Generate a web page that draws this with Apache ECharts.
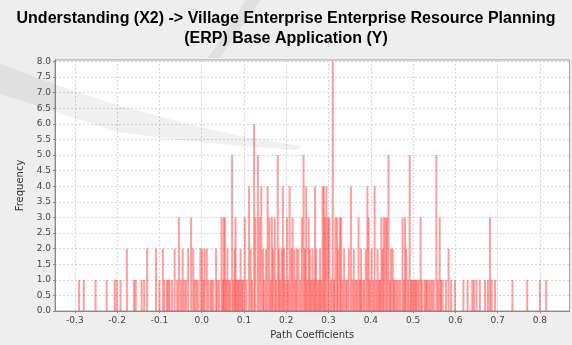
<!DOCTYPE html>
<html>
<head>
<meta charset="utf-8">
<script src="https://cdn.jsdelivr.net/npm/echarts@6/dist/echarts.min.js"></script>
<style>
  html, body { margin: 0; padding: 0; background: #eeeeee; }
  #chart { width: 572px; height: 345px; }
</style>
</head>
<body>
<div id="chart"></div>
<script>
// Bootstrap histogram of the path coefficient Understanding (X2) -> ERP Base Application (Y)
const chartTitle = 'Understanding (X2) -> Village Enterprise Enterprise Resource Planning\n(ERP) Base Application (Y)';
const xAxisName = 'Path Coefficients';
const yAxisName = 'Frequency';

// bin position (path coefficient) and count of bootstrap samples in that bin
const coefficients = [
  -0.290, -0.279, -0.251, -0.225, -0.206, -0.201, -0.192, -0.177, -0.160, -0.156,
  -0.142, -0.136, -0.129, -0.108, -0.100, -0.092, -0.088, -0.082, -0.079, -0.076,
  -0.070, -0.064, -0.058, -0.054, -0.049, -0.045, -0.041, -0.037, -0.032, -0.025,
  -0.020, -0.017, -0.013, -0.009, -0.003, 0.001, 0.004, 0.007, 0.012, 0.016,
  0.021, 0.024, 0.028, 0.034, 0.037, 0.041, 0.047, 0.050, 0.052, 0.055,
  0.058, 0.061, 0.064, 0.067, 0.072, 0.075, 0.078, 0.080, 0.083, 0.086,
  0.089, 0.092, 0.095, 0.098, 0.102, 0.106, 0.112, 0.116, 0.119, 0.124,
  0.127, 0.133, 0.137, 0.141, 0.145, 0.148, 0.152, 0.156, 0.160, 0.163,
  0.166, 0.169, 0.173, 0.176, 0.180, 0.183, 0.186, 0.189, 0.192, 0.195,
  0.198, 0.202, 0.205, 0.208, 0.212, 0.215, 0.219, 0.222, 0.225, 0.229,
  0.233, 0.237, 0.241, 0.244, 0.247, 0.250, 0.253, 0.256, 0.259, 0.262,
  0.265, 0.268, 0.271, 0.274, 0.277, 0.280, 0.283, 0.286, 0.289, 0.292,
  0.295, 0.299, 0.302, 0.306, 0.310, 0.313, 0.316, 0.320, 0.323, 0.327,
  0.330, 0.333, 0.337, 0.341, 0.344, 0.348, 0.353, 0.357, 0.360, 0.364,
  0.367, 0.371, 0.374, 0.377, 0.380, 0.384, 0.388, 0.392, 0.395, 0.398,
  0.402, 0.406, 0.409, 0.413, 0.416, 0.419, 0.422, 0.425, 0.428, 0.431,
  0.435, 0.438, 0.442, 0.445, 0.448, 0.452, 0.455, 0.458, 0.462, 0.466,
  0.470, 0.475, 0.478, 0.481, 0.484, 0.488, 0.492, 0.495, 0.498, 0.501,
  0.504, 0.507, 0.510, 0.514, 0.518, 0.521, 0.527, 0.530, 0.533, 0.537,
  0.541, 0.545, 0.549, 0.555, 0.559, 0.563, 0.566, 0.570, 0.578, 0.584,
  0.590, 0.599, 0.619, 0.629, 0.640, 0.644, 0.650, 0.658, 0.670, 0.677,
  0.682, 0.686, 0.694, 0.735, 0.770, 0.800, 0.815
];
const frequencies = [
  1, 1, 1, 1, 1, 1, 1, 2, 1, 1,
  1, 1, 2, 2, 1, 2, 1, 1, 1, 1,
  1, 2, 1, 3, 1, 2, 1, 1, 2, 3,
  2, 1, 1, 1, 2, 2, 1, 2, 2, 1,
  1, 1, 1, 2, 1, 1, 3, 1, 3, 3,
  1, 2, 1, 1, 5, 1, 2, 3, 1, 1,
  1, 2, 1, 1, 3, 1, 4, 2, 1, 6,
  3, 5, 3, 4, 2, 1, 2, 4, 3, 1,
  3, 2, 3, 1, 5, 2, 1, 2, 4, 2,
  1, 3, 1, 4, 2, 3, 2, 1, 2, 2,
  1, 3, 5, 2, 4, 1, 3, 2, 1, 2,
  1, 4, 2, 1, 1, 2, 1, 4, 4, 3,
  4, 3, 3, 1, 8, 1, 3, 3, 2, 3,
  3, 1, 2, 1, 1, 2, 4, 1, 2, 1,
  1, 3, 1, 2, 1, 1, 2, 4, 3, 1,
  2, 1, 4, 1, 2, 1, 1, 3, 2, 3,
  3, 3, 5, 1, 2, 2, 1, 1, 1, 1,
  1, 3, 1, 3, 2, 1, 5, 1, 1, 1,
  1, 1, 1, 1, 3, 1, 1, 1, 1, 1,
  1, 1, 1, 5, 1, 3, 1, 1, 1, 2,
  1, 1, 1, 1, 1, 1, 1, 1, 1, 1,
  3, 1, 1, 1, 1, 1, 1
];

// axis ticks
const xTickValues = [-0.3, -0.2, -0.1, 0.0, 0.1, 0.2, 0.3, 0.4, 0.5, 0.6, 0.7, 0.8];
const xRange = [-0.347, 0.870];
const yRange = [0, 8.05];
const yStep = 0.5;

const chart = echarts.init(document.getElementById('chart'), null, { renderer: 'canvas' });

const tickFont = { fontFamily: 'DejaVu Sans', fontSize: 9, color: '#444444' };
const gridLine = { show: true, lineStyle: { color: '#d4d4d4', type: [2, 2], width: 1 } };
const swooshStyle = { fill: 'rgba(110,110,110,0.10)' };

chart.setOption({
  backgroundColor: '#eeeeee',
  animation: false,
  title: {
    text: chartTitle,
    left: 'center',
    top: 4,
    textStyle: {
      fontFamily: 'Liberation Sans',
      fontWeight: 'bold',
      fontSize: 16,
      lineHeight: 20,
      color: '#000000'
    }
  },
  grid: {
    left: 55,
    right: 2.5,
    top: 60,
    bottom: 31.7,
    show: true,
    backgroundColor: '#ffffff',
    borderColor: '#a0a0a0',
    borderWidth: 1
  },
  xAxis: {
    type: 'value',
    min: xRange[0],
    max: xRange[1],
    name: xAxisName,
    nameLocation: 'middle',
    nameGap: 19,
    nameTextStyle: { fontFamily: 'DejaVu Sans', fontSize: 10, color: '#333333' },
    axisLine: { show: true, onZero: false, lineStyle: { color: '#888888' } },
    axisTick: { show: true, length: 2, customValues: xTickValues, lineStyle: { color: '#888888' } },
    axisLabel: {
      ...tickFont,
      margin: 5,
      customValues: xTickValues,
      formatter: v => v.toFixed(1)
    },
    splitLine: gridLine
  },
  yAxis: {
    type: 'value',
    min: yRange[0],
    max: yRange[1],
    interval: yStep,
    name: yAxisName,
    nameLocation: 'middle',
    nameGap: 23,
    nameTextStyle: { fontFamily: 'DejaVu Sans', fontSize: 10, color: '#333333' },
    axisLine: { show: true, onZero: false, lineStyle: { color: '#888888' } },
    axisTick: { show: true, length: 2, lineStyle: { color: '#888888' } },
    axisLabel: {
      ...tickFont,
      margin: 4,
      showMaxLabel: false,
      formatter: v => v.toFixed(1)
    },
    splitLine: gridLine
  },
  // faint grey swoosh lying over the left half of the figure
  graphic: [
    {
      type: 'polygon',
      z: 100,
      silent: true,
      shape: {
        points: [
          [0, 64], [60, 86], [117, 105], [180, 122], [240, 136], [302, 146],
          [298, 150], [240, 146], [180, 140], [117, 132], [60, 113], [0, 94]
        ]
      },
      style: swooshStyle
    },
    {
      type: 'polygon',
      z: 100,
      silent: true,
      shape: { points: [[246, 0], [261, 0], [220, 58], [208, 58]] },
      style: swooshStyle
    }
  ],
  series: [{
    type: 'bar',
    data: coefficients.map((c, i) => [c, frequencies[i]]),
    barWidth: 2,
    itemStyle: { color: 'rgba(255, 40, 40, 0.45)' },
    silent: true
  }]
});
</script>
</body>
</html>
